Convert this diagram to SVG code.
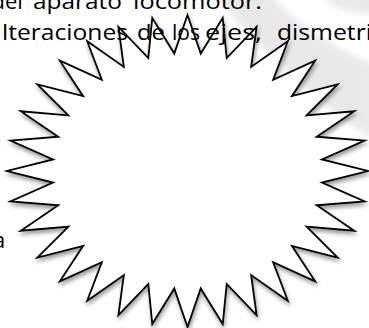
<svg xmlns="http://www.w3.org/2000/svg" width="369" height="328" viewBox="0 0 369 328">
<style>
.t{font-family:"Open Sans","Noto Sans","Liberation Sans",sans-serif;font-size:22px;fill:#000}
.star{fill:#fff;stroke:#000;stroke-width:1.8;stroke-linejoin:miter;stroke-miterlimit:20}
</style>
<defs>
<filter id="sh" x="-10%" y="-10%" width="120%" height="125%">
<feDropShadow dx="1" dy="3" stdDeviation="2" flood-color="#000" flood-opacity="0.4"/>
</filter>
<filter id="bl" x="-20%" y="-20%" width="140%" height="140%">
<feGaussianBlur stdDeviation="3"/>
</filter>
</defs>
<rect width="369" height="328" fill="#fff"/>
<g id="watermark" fill="#e9e9e9" filter="url(#bl)">
<path d="M210,-10 L266,-10 Q305,35 372,64 L372,138 Q300,95 210,-10 Z"/>
<ellipse cx="372" cy="-10" rx="50" ry="24"/>
</g>
<g id="starburst">
<polygon class="star" filter="url(#sh)" points="187.5,15 200.73,53.57 222.71,18 226.69,58.08 256.57,26.87 251.14,66.93 287.78,41.29 273.14,79.78 315.13,60.69 291.86,96.14 337.58,84.33 306.56,115.37 354.26,111.3 316.69,136.75 364.53,140.57 321.85,159.43 368,171 321.85,182.57 364.53,201.43 316.69,205.25 354.26,230.7 306.56,226.63 337.58,257.67 291.86,245.86 315.13,281.31 273.14,262.22 287.78,300.71 251.14,275.07 256.57,315.13 226.69,283.92 222.71,324 200.73,288.43 187.5,327 174.27,288.43 152.29,324 148.31,283.92 118.43,315.13 123.86,275.07 87.22,300.71 101.86,262.22 59.87,281.31 83.14,245.86 37.42,257.67 68.44,226.63 20.74,230.7 58.31,205.25 10.47,201.43 53.15,182.57 7,171 53.15,159.43 10.47,140.57 58.31,136.75 20.74,111.3 68.44,115.37 37.42,84.33 83.14,96.14 59.87,60.69 101.86,79.78 87.22,41.29 123.86,66.93 118.43,26.87 148.31,58.08 152.29,18 174.27,53.57"/>
</g>
<g id="connectors"/>
<g id="text">
<text class="t" y="8.5"><tspan x="-8.5">del</tspan><tspan x="33" textLength="89" lengthAdjust="spacingAndGlyphs">aparato</tspan><tspan x="133" textLength="129" lengthAdjust="spacingAndGlyphs">locomotor.</tspan></text>
<text class="t" y="40"><tspan x="2" textLength="126" lengthAdjust="spacingAndGlyphs">lteraciones</tspan><tspan x="137" textLength="28" lengthAdjust="spacingAndGlyphs">de</tspan><tspan x="172" textLength="28" lengthAdjust="spacingAndGlyphs">los</tspan><tspan x="205" textLength="57" lengthAdjust="spacingAndGlyphs">ejes,</tspan><tspan x="277" textLength="95" lengthAdjust="spacingAndGlyphs">dismetri</tspan></text>
<text class="t" x="-7" y="248">a</text>
</g>
</svg>
